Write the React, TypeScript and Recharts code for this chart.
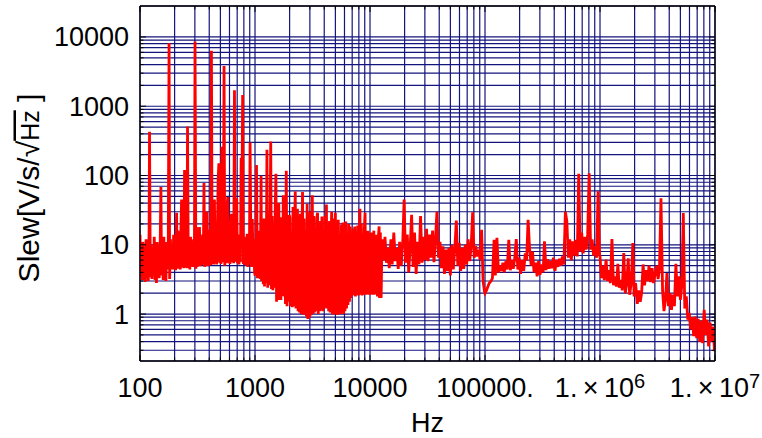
import React from "react";
import { LineChart, Line, XAxis, YAxis, CartesianGrid, ReferenceLine } from "recharts";

// ---- layout -------------------------------------------------------------
const CHART_W = 762;
const CHART_H = 438;
const MARGIN = { top: 6, right: 47, bottom: 0, left: 0 };
const Y_AXIS_W = 140;
const X_AXIS_H = 77;
const PLOT_TOP = MARGIN.top;
const PLOT_RIGHT = CHART_W - MARGIN.right;

const FONT = "'Liberation Sans', Arial, Helvetica, sans-serif";
const GRID = "#14147f";
const FRAME = "#000000";
const TRACE = "#ff0000";

const X_DOMAIN: [number, number] = [100, 1e7];
const Y_DOMAIN: [number, number] = [0.21, 28000];

// ---- axes ---------------------------------------------------------------
const xDecades = [100, 1000, 10000, 100000, 1e6, 1e7];
const xTickLabels = ["100", "1000", "10000", "100000.", "1.\u2009×\u200910^6", "1.\u2009×\u200910^7"];
const yDecades = [1, 10, 100, 1000, 10000];
const yTickLabels = ["1", "10", "100", "1000", "10000"];
const mantissas = [1, 2, 3, 4, 5, 6, 7, 8, 9];
const subUnitMantissas = [3, 4, 5, 6, 7, 8, 9];

const xGrid = [...xDecades.slice(0, -1).flatMap((d) => mantissas.map((m) => m * d)), 1e7];
const yGrid = [
  ...subUnitMantissas.map((m) => m / 10),
  ...yDecades.slice(0, -1).flatMap((d) => mantissas.map((m) => m * d)),
  10000,
];

// ---- spectrum: frequency (Hz) and slew density (V/s/√Hz) ------------------
// 100 Hz – 1 kHz
const bandAHz = [
  100, 102, 103, 105, 106, 108, 109, 111, 113, 114,
  116, 118, 120, 121, 123, 125, 127, 129, 131, 133,
  135, 137, 139, 141, 143, 145, 147, 150, 152, 154,
  156, 159, 161, 164, 166, 168, 171, 174, 176, 179,
  181, 184, 187, 190, 193, 196, 198, 201, 204, 208,
  211, 214, 217, 220, 224, 227, 230, 234, 237, 241,
  244, 248, 252, 256, 259, 263, 267, 271, 275, 280,
  284, 288, 292, 297, 301, 306, 310, 315, 320, 324,
  329, 334, 339, 344, 350, 355, 360, 365, 371, 377,
  382, 388, 394, 400, 406, 412, 418, 424, 431, 437,
  444, 450, 457, 464, 471, 478, 485, 492, 500, 507,
  515, 522, 530, 538, 546, 555, 563, 571, 580, 589,
  597, 606, 615, 625, 634, 644, 653, 663, 673, 683,
  693, 704, 714, 725, 736, 747, 758, 769, 781, 793,
  805, 817, 829, 841, 854, 867, 880, 893, 906, 920,
  934, 948, 962, 976, 991,
];
const bandASlew = [
  14, 3.5, 9, 3.1, 11, 3.7, 8, 2.9, 12, 3.3,
  9.5, 3.0, 16.5, 430, 3.4, 10, 3.2, 8.5, 3.6, 13,
  3.1, 9, 2.8, 11, 3.5, 7.5, 3.3, 12, 68, 3.6,
  10, 3.1, 13, 4.2, 9, 3.0, 11, 4.4, 8, 8100,
  3.2, 12, 4.5, 9.5, 4.4, 14, 4.6, 10, 4.3, 29,
  4.5, 16, 4.6, 11, 4.4, 18, 45, 4.7, 12, 4.6,
  120, 4.8, 13, 4.6, 510, 4.7, 10, 4.4, 13, 4.9,
  11, 4.8, 12, 5.0, 8600, 4.5, 18, 4.8, 10, 5.0,
  18, 4.9, 12, 5.1, 14, 5.2, 78, 4.8, 11, 5.0,
  30, 4.9, 16.5, 5.0, 13, 5.1, 6300, 5.3, 12, 5.2,
  45, 5.4, 14, 5.2, 16, 85, 150, 5.5, 13, 5.3,
  260, 5.6, 12, 3800, 5.0, 15, 5.4, 36, 49, 5.5,
  13, 5.3, 20, 28, 5.6, 11, 5.4, 1700, 5.7, 16,
  47, 5.4, 14, 5.2, 12, 5.6, 180, 40, 1450, 5.3,
  13, 5.1, 12, 5.0, 14.4, 4.8, 11, 5.2, 300, 15,
  4.8, 23.5, 5.0, 12, 4.2,
];

// 1 kHz – 13 kHz
const bandBHz = [
  1000, 1020, 1030, 1050, 1060, 1080, 1090, 1110, 1130, 1140,
  1160, 1180, 1200, 1210, 1230, 1250, 1270, 1290, 1310, 1330,
  1350, 1370, 1390, 1410, 1430, 1450, 1470, 1500, 1520, 1540,
  1560, 1590, 1610, 1640, 1660, 1680, 1710, 1740, 1760, 1790,
  1810, 1840, 1870, 1900, 1930, 1960, 1980, 2010, 2040, 2080,
  2110, 2140, 2170, 2200, 2240, 2270, 2300, 2340, 2370, 2410,
  2440, 2480, 2520, 2560, 2590, 2630, 2670, 2710, 2750, 2800,
  2840, 2880, 2920, 2970, 3010, 3060, 3100, 3150, 3200, 3240,
  3290, 3340, 3390, 3440, 3500, 3550, 3600, 3650, 3710, 3770,
  3820, 3880, 3940, 4000, 4060, 4120, 4180, 4240, 4310, 4370,
  4440, 4500, 4570, 4640, 4710, 4780, 4850, 4920, 5000, 5070,
  5150, 5220, 5300, 5380, 5460, 5550, 5630, 5710, 5800, 5890,
  5970, 6060, 6150, 6250, 6340, 6440, 6530, 6630, 6730, 6830,
  6930, 7040, 7140, 7250, 7360, 7470, 7580, 7690, 7810, 7930,
  8050, 8170, 8290, 8410, 8540, 8670, 8800, 8930, 9060, 9200,
  9340, 9480, 9620, 9760, 9910,
  10000, 10200, 10300, 10500, 10600, 10800, 10900, 11100, 11300, 11400,
  11600, 11800, 12000, 12100, 12300, 12500, 12700, 12900,
];
const bandBSlew = [
  3.6, 14, 142, 3.3, 16, 3.4, 13, 3.2, 99, 3.0,
  15, 2.7, 24, 2.5, 11, 2.8, 235, 2.4, 28, 2.6,
  12, 310, 2.3, 26, 2.2, 10, 2.4, 34, 106, 1.5,
  13, 1.6, 40, 1.7, 25, 1.6, 11, 1.8, 52, 1.9,
  30, 1.4, 117, 1.3, 12, 1.5, 27, 24.6, 1.3, 10,
  1.25, 35, 1.3, 13, 59, 1.2, 25, 33, 1.1, 11,
  1.05, 28, 1.0, 14, 57.6, 0.98, 24, 1.0, 12, 0.92,
  39, 0.85, 13, 0.88, 30, 0.95, 11, 52, 1.0, 26,
  1.05, 12, 1.1, 24, 29, 1.0, 13, 1.1, 22, 1.15,
  25.6, 1.1, 11, 1.2, 26, 1.25, 38, 1.2, 12, 1.1,
  22, 1.05, 10, 30, 1.0, 24, 0.98, 12, 29, 1.0,
  11, 0.97, 23, 1.0, 10, 1.0, 19.5, 1.05, 21, 1.0,
  12, 1.1, 21.7, 1.2, 10, 1.35, 20, 1.5, 18.4, 1.7,
  11, 1.85, 17, 1.9, 18.4, 1.8, 10, 1.9, 19, 1.85,
  12, 33, 1.9, 20, 1.85, 10, 1.9, 17, 29, 1.9,
  11, 1.95, 16, 1.9, 12,
  2.0, 15, 1.9, 10, 2.0, 16, 1.9, 11, 1.95, 14,
  1.8, 12, 18.4, 1.7, 15, 1.7, 11, 12,
];

// 13 kHz – 100 kHz
const bandCHz = [
  13100, 13500, 13900, 14300, 14700, 15200, 15600, 16100, 16600, 17100,
  17600, 18100, 18700, 19300, 19800, 20400, 21100, 21700, 22400, 23000,
  23700, 24400, 25200, 25900, 26700, 27500, 28400, 29200, 30100, 31000,
  32000, 32900, 33900, 35000, 36000, 37100, 38200, 39400, 40600, 41800,
  43100, 44400, 45700, 47100, 48500, 50000, 51500, 53000, 54600, 56300,
  58000, 59700, 61500, 63400, 65300, 67300, 69300, 71400, 73600, 75800,
  78100, 80500, 82900, 85400, 88000, 90600, 93400, 96200, 99100,
];
const bandCSlew = [
  6, 13, 5.5, 9, 4.6, 12, 5.2, 15, 5.8, 9,
  4.5, 11, 5.0, 12, 45, 5.5, 14, 4.0, 10, 27,
  4.8, 15, 3.8, 11, 5.2, 26, 5.5, 13, 6.0, 17,
  5.8, 14, 6.5, 16, 5.6, 12, 30, 6.5, 11, 4.6,
  9.5, 3.8, 8.5, 4.2, 9.0, 3.6, 10, 4.4, 8.5, 22.4,
  5.0, 10.7, 4.2, 9.0, 4.5, 10, 5.2, 12, 5.8, 9.5,
  29.5, 6.5, 9.5, 6.8, 8.5, 6.1, 16.5, 3.0, 2.1,
];

// 100 kHz – 1 MHz
const bandDHz = [
  100000, 103000, 106000, 109000, 113000, 116000, 120000, 123000, 127000, 131000,
  135000, 139000, 143000, 147000, 152000, 156000, 161000, 166000, 171000, 176000,
  181000, 187000, 193000, 198000, 204000, 211000, 217000, 224000, 230000, 237000,
  244000, 252000, 259000, 267000, 275000, 284000, 292000, 301000, 310000, 320000,
  329000, 339000, 350000, 360000, 371000, 382000, 394000, 406000, 418000, 431000,
  444000, 457000, 471000, 485000, 500000, 515000, 530000, 546000, 563000, 580000,
  597000, 615000, 634000, 653000, 673000, 693000, 714000, 736000, 758000, 781000,
  805000, 829000, 854000, 880000, 906000, 934000, 962000, 991000,
];
const bandDSlew = [
  2.0, 2.2, 2.5, 2.8, 3.0, 3.3, 11.8, 3.6, 12.6, 4.0,
  5.0, 4.2, 5.5, 4.0, 5.8, 4.4, 11.8, 4.3, 6.0, 4.5,
  6.2, 12.1, 4.4, 6.5, 3.8, 6.0, 4.2, 7.5, 6.0, 23,
  9.0, 5.0, 8.0, 4.0, 5.5, 3.5, 5.8, 3.7, 5.2, 4.0,
  11.2, 4.3, 6.2, 4.5, 5.8, 4.6, 6.5, 4.2, 6.0, 4.8,
  6.3, 5.0, 6.8, 5.2, 30, 21.7, 6.5, 12, 6.0, 11.2,
  7.0, 11.8, 6.8, 106, 8.0, 15, 7.5, 13, 8.5, 14,
  108, 8.5, 12, 7.0, 9.5, 6.5, 59, 7.0,
];

// 1 MHz – 10 MHz
const bandEHz = [
  1.0e6, 1.03e6, 1.06e6, 1.09e6, 1.13e6, 1.16e6, 1.2e6, 1.23e6, 1.27e6, 1.31e6,
  1.35e6, 1.39e6, 1.43e6, 1.47e6, 1.52e6, 1.56e6, 1.61e6, 1.66e6, 1.71e6, 1.76e6,
  1.81e6, 1.87e6, 1.93e6, 1.98e6, 2.04e6, 2.11e6, 2.17e6, 2.24e6, 2.3e6, 2.37e6,
  2.44e6, 2.52e6, 2.59e6, 2.67e6, 2.75e6, 2.84e6, 2.92e6, 3.01e6, 3.1e6, 3.2e6,
  3.29e6, 3.39e6, 3.5e6, 3.6e6, 3.71e6, 3.82e6, 3.94e6, 4.06e6, 4.18e6, 4.31e6,
  4.44e6, 4.57e6, 4.71e6, 4.85e6, 5.0e6, 5.15e6, 5.3e6, 5.46e6, 5.63e6, 5.8e6,
  5.97e6, 6.15e6, 6.34e6, 6.53e6, 6.73e6, 6.93e6, 7.14e6, 7.36e6, 7.58e6, 7.81e6,
  8.05e6, 8.29e6, 8.54e6, 8.8e6, 9.06e6, 9.34e6, 9.62e6, 9.91e6, 1.0e7,
];
const bandESlew = [
  6.8, 3.3, 5.0, 3.1, 6.1, 3.0, 4.3, 2.8, 12.1, 2.6,
  3.5, 2.5, 5.3, 2.4, 3.1, 2.2, 7.6, 2.0, 2.8, 6.4,
  1.9, 2.8, 10.6, 1.8, 2.8, 1.4, 2.2, 1.5, 2.0, 5.2,
  2.6, 4.3, 3.0, 5.0, 2.9, 4.6, 2.8, 3.8, 5.0, 3.2,
  4.5, 47, 2.2, 1.1, 1.6, 3.9, 1.3, 2.0, 1.15, 1.9,
  1.3, 5.3, 1.8, 3.5, 1.6, 2.6, 28.7, 1.2, 1.8, 0.83,
  1.04, 0.6, 0.9, 0.48, 0.92, 0.45, 0.85, 0.4, 0.8, 0.38,
  1.15, 0.5, 0.83, 0.34, 0.75, 0.4, 0.66, 0.29, 0.45,
];

const bands: [number[], number[]][] = [
  [bandAHz, bandASlew],
  [bandBHz, bandBSlew],
  [bandCHz, bandCSlew],
  [bandDHz, bandDSlew],
  [bandEHz, bandESlew],
];

const data = bands.flatMap(([hz, slew]) => hz.map((f, i) => ({ hz: f, slew: slew[i] })));

// ---- tick and title renderers -----------------------------------------
function TickText({ x, y, label, anchor }: { x: number; y: number; label: string; anchor: string }) {
  const [base, exp] = label.split("^");
  return (
    <text x={x} y={y} textAnchor={anchor as any} fontSize={27} fontFamily={FONT} fill="#000">
      {base}
      {exp ? (
        <tspan dy={-9} fontSize={20}>
          {exp}
        </tspan>
      ) : null}
    </text>
  );
}

const BottomTick = (props: any) => {
  const { x, y, payload } = props;
  const i = xDecades.indexOf(payload.value);
  const len = i >= 0 ? 6 : 3.5;
  return (
    <g>
      <line x1={x} x2={x} y1={y} y2={y - len} stroke={FRAME} strokeWidth={1} />
      <line x1={x} x2={x} y1={PLOT_TOP} y2={PLOT_TOP + len} stroke={FRAME} strokeWidth={1} />
      {i >= 0 ? <TickText x={x} y={y + 35.5} label={xTickLabels[i]} anchor="middle" /> : null}
    </g>
  );
};

const LeftTick = (props: any) => {
  const { x, y, payload } = props;
  const i = yDecades.indexOf(payload.value);
  const len = i >= 0 ? 6 : 3.5;
  return (
    <g>
      <line x1={x} x2={x + len} y1={y} y2={y} stroke={FRAME} strokeWidth={1} />
      <line x1={PLOT_RIGHT} x2={PLOT_RIGHT - len} y1={y} y2={y} stroke={FRAME} strokeWidth={1} />
      {i >= 0 ? <TickText x={x - 11} y={y + 9.5} label={yTickLabels[i]} anchor="end" /> : null}
    </g>
  );
};

const XTitle = (props: any) => {
  const vb = props.viewBox;
  return (
    <text x={vb.x + vb.width / 2} y={vb.y + 71} textAnchor="middle" fontSize={27} fontFamily={FONT} fill="#000">
      Hz
    </text>
  );
};

const YTitle = (props: any) => {
  const vb = props.viewBox;
  const cx = vb.x + 38.5;
  const cy = vb.y + vb.height / 2 + 4.5;
  return (
    <text
      transform={`translate(${cx},${cy}) rotate(-90)`}
      textAnchor="middle"
      fontSize={30}
      fontFamily={FONT}
      fill="#000"
    >
      Slew[V/s/√
      <tspan fontSize={25} style={{ textDecoration: "overline", textDecorationStyle: "dashed" } as any}>
        Hz
      </tspan>
      {" ]"}
    </text>
  );
};

export default function App() {
  return (
    <div style={{ width: CHART_W, height: CHART_H, background: "#fff" }}>
      <style>{"html,body{margin:0;padding:0;background:#fff;}"}</style>
      <LineChart width={CHART_W} height={CHART_H} data={data} margin={MARGIN}>
        <CartesianGrid stroke={GRID} strokeWidth={1.2} />
        <XAxis
          dataKey="hz"
          type="number"
          scale="log"
          domain={X_DOMAIN}
          allowDataOverflow
          ticks={xGrid}
          interval={0}
          height={X_AXIS_H}
          tickLine={false}
          tickSize={0}
          tickMargin={0}
          tick={BottomTick}
          axisLine={{ stroke: FRAME, strokeWidth: 1.3 }}
          label={XTitle}
        />
        <YAxis
          type="number"
          scale="log"
          domain={Y_DOMAIN}
          allowDataOverflow
          ticks={yGrid}
          interval={0}
          width={Y_AXIS_W}
          tickLine={false}
          tickSize={0}
          tickMargin={0}
          tick={LeftTick}
          axisLine={{ stroke: FRAME, strokeWidth: 1.3 }}
          label={YTitle}
        />
        <Line
          type="linear"
          dataKey="slew"
          stroke={TRACE}
          strokeWidth={2.8}
          dot={false}
          activeDot={false}
          isAnimationActive={false}
        />
        <ReferenceLine x={1e7} stroke={FRAME} strokeWidth={1.3} />
        <ReferenceLine y={28000} stroke={FRAME} strokeWidth={1.3} />
      </LineChart>
    </div>
  );
}
